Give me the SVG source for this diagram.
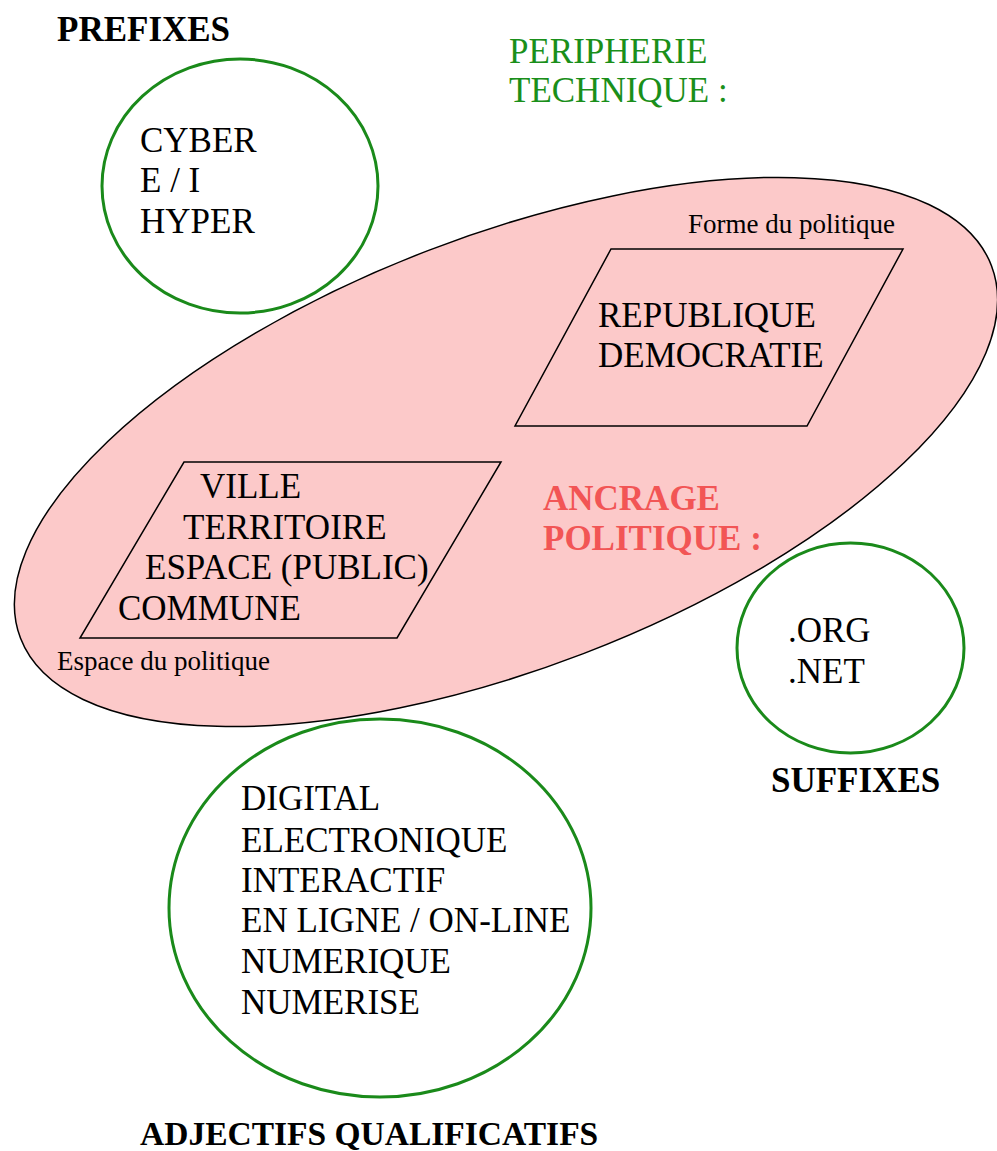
<svg xmlns="http://www.w3.org/2000/svg" width="997" height="1151" viewBox="0 0 997 1151">
<style>
text { font-family: "Liberation Serif", "Times New Roman", serif; fill: #000; }
.big { font-size: 35px; }
.small { font-size: 27px; }
.bold { font-weight: bold; font-size: 35px; }
.green { fill: #1a8f1a; }
.red { fill: #f25555; }
.circ { fill: none; stroke: #1a8a1a; stroke-width: 3; }
.para { fill: none; stroke: #000; stroke-width: 1.5; }
</style>
<rect width="997" height="1151" fill="#ffffff"/>
<g id="ancrage">
<ellipse cx="506" cy="452" rx="520" ry="216" transform="rotate(-21 506 452)" fill="#fcc9c9" stroke="#000" stroke-width="1.5"/>
<text class="bold red" x="543" y="510">ANCRAGE</text>
<text class="bold red" x="543" y="550">POLITIQUE :</text>
</g>
<g id="forme">
<polygon class="para" points="611,249 903,249 807,426 515,426"/>
<text class="small" x="688" y="233">Forme du politique</text>
<text class="big" x="598" y="327">REPUBLIQUE</text>
<text class="big" x="598" y="367">DEMOCRATIE</text>
</g>
<g id="espace">
<polygon class="para" points="184,462 501,462 397,638 80,638"/>
<text class="big" x="200" y="498">VILLE</text>
<text class="big" x="183" y="539">TERRITOIRE</text>
<text class="big" x="145" y="579">ESPACE (PUBLIC)</text>
<text class="big" x="118" y="620">COMMUNE</text>
<text class="small" x="57" y="670">Espace du politique</text>
</g>
<g id="prefixes">
<text class="bold" x="57" y="41">PREFIXES</text>
<ellipse class="circ" cx="240" cy="186" rx="138" ry="127"/>
<text class="big" x="140" y="152">CYBER</text>
<text class="big" x="140" y="192">E / I</text>
<text class="big" x="140" y="233">HYPER</text>
</g>
<g id="peripherie">
<text class="big green" x="509" y="63">PERIPHERIE</text>
<text class="big green" x="509" y="102">TECHNIQUE :</text>
</g>
<g id="suffixes">
<ellipse class="circ" cx="850.5" cy="648" rx="113.5" ry="105"/>
<text class="big" x="788" y="642">.ORG</text>
<text class="big" x="788" y="683">.NET</text>
<text class="bold" x="771" y="792">SUFFIXES</text>
</g>
<g id="adjectifs">
<ellipse class="circ" cx="380" cy="908" rx="211" ry="189"/>
<text class="big" x="241" y="810">DIGITAL</text>
<text class="big" x="241" y="852">ELECTRONIQUE</text>
<text class="big" x="241" y="892">INTERACTIF</text>
<text class="big" x="241" y="932">EN LIGNE / ON-LINE</text>
<text class="big" x="241" y="973">NUMERIQUE</text>
<text class="big" x="241" y="1014">NUMERISE</text>
<text class="bold" x="140" y="1145" style="font-size:33.5px">ADJECTIFS QUALIFICATIFS</text>
</g>
<g id="connectors"></g>
</svg>
